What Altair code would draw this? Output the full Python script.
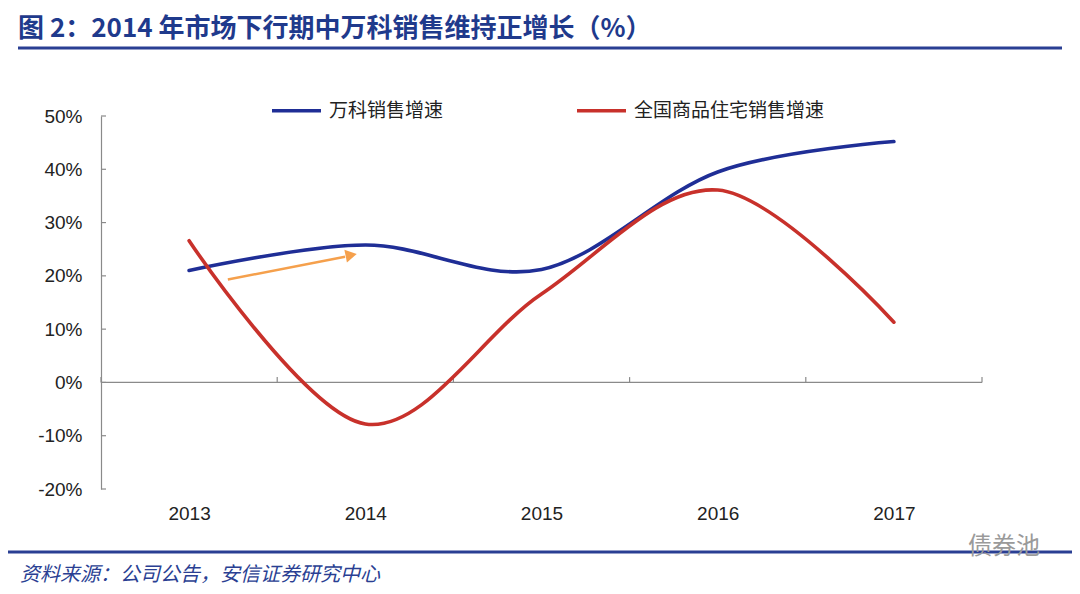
import altair as alt
import pandas as pd

# ---- data ----
years = [2013, 2014, 2015, 2016, 2017]
vanke = [21.0, 25.8, 21.2, 39.5, 45.2]
national = [26.6, -7.8, 16.6, 36.1, 11.3]
series_names = ["万科销售增速", "全国商品住宅销售增速"]
series_colors = ["#1F2E96", "#C8312B"]
y_ticks = [-20, -10, 0, 10, 20, 30, 40, 50]
x_bounds = [2012.5, 2013.5, 2014.5, 2015.5, 2016.5, 2017.5]
arrow_x = [2013.22, 2013.885]
arrow_y = [19.3, 23.6]
arrow_head_x = [2013.92]
arrow_head_y = [23.9]

title_text = "图 2：2014 年市场下行期中万科销售维持正增长（%）"
source_text = "资料来源：公司公告，安信证券研究中心"
watermark_text = "债券池"

W, H = 881, 373
FONT = "Liberation Sans, Noto Sans CJK SC, sans-serif"
CJK = "Noto Sans CJK SC, sans-serif"

rows = []
for name, vals in zip(series_names, [vanke, national]):
    for yr, v in zip(years, vals):
        rows.append({"year": yr, "value": v, "series": name})
df = pd.DataFrame(rows)

xscale = alt.Scale(domain=[2012.5, 2017.5], nice=False, zero=False)
yscale = alt.Scale(domain=[-20, 50], nice=False, zero=False)

x_axis = alt.Axis(values=years, format="d", title=None, domain=False,
                  ticks=False, grid=False, labelFontSize=19, labelFont=FONT,
                  labelColor="#222222", labelPadding=15, labelFlush=False)
y_axis = alt.Axis(values=y_ticks, title=None, grid=False, ticks=False,
                  domainColor="#8a8a8a", domainWidth=1.2,
                  labelExpr="datum.value + '%'", labelFontSize=19,
                  labelFont=FONT, labelColor="#222222", labelPadding=19)

zero_line = alt.Chart(pd.DataFrame({"z": [0]})).mark_rule(color="#8a8a8a", strokeWidth=1.2).encode(
    y=alt.Y("z:Q", scale=yscale, axis=y_axis), x=alt.value(0), x2=alt.value(W)
)

xt = alt.Chart(pd.DataFrame({"b": x_bounds, "z0": [0] * 6, "z1": [1] * 6})).mark_rule(
    color="#8a8a8a", strokeWidth=1.2
).encode(
    x=alt.X("b:Q", scale=xscale, axis=x_axis),
    y=alt.Y("z0:Q", scale=yscale, axis=y_axis), y2="z1:Q"
)

yt = alt.Chart(pd.DataFrame({"t": y_ticks})).mark_rule(color="#8a8a8a", strokeWidth=1.2).encode(
    y=alt.Y("t:Q", scale=yscale, axis=y_axis), x=alt.value(0), x2=alt.value(5)
)

lines = alt.Chart(df).mark_line(
    interpolate="cardinal", tension=0, strokeWidth=3.6, strokeCap="round"
).encode(
    x=alt.X("year:Q", scale=xscale, axis=x_axis),
    y=alt.Y("value:Q", scale=yscale, axis=y_axis),
    color=alt.Color("series:N",
                    scale=alt.Scale(domain=series_names, range=series_colors),
                    legend=alt.Legend(orient="none", legendX=169, legendY=-32,
                                      direction="horizontal", title=None,
                                      symbolType="stroke", symbolSize=2401,
                                      symbolStrokeWidth=3.6, labelFontSize=19,
                                      labelFont=CJK, labelColor="#222222",
                                      columnPadding=125, labelOffset=6,
                                      padding=0, labelLimit=400)),
)

arrow_line = alt.Chart(pd.DataFrame({"ax": arrow_x, "ay": arrow_y})).mark_line(
    color="#F5A04C", strokeWidth=2.5
).encode(x=alt.X("ax:Q", scale=xscale, axis=x_axis), y=alt.Y("ay:Q", scale=yscale, axis=y_axis))

arrow_head = alt.Chart(pd.DataFrame({"hx": arrow_head_x, "hy": arrow_head_y})).mark_point(
    shape="triangle-right", filled=True, size=170, angle=348.7, color="#F5A04C", opacity=1
).encode(x=alt.X("hx:Q", scale=xscale, axis=x_axis), y=alt.Y("hy:Q", scale=yscale, axis=y_axis))

txt = pd.DataFrame({"label": [title_text]})
title = alt.Chart(txt).mark_text(
    align="left", baseline="middle", font=CJK, fontSize=26,
    fontWeight="bold", color="#1F3A8C"
).encode(x=alt.value(-83), y=alt.value(-87), text="label:N")

src = pd.DataFrame({"label": [source_text]})
source = alt.Chart(src).mark_text(
    align="left", baseline="middle", font=CJK, fontSize=20,
    fontStyle="italic", color="#2A3F93"
).encode(x=alt.value(-81), y=alt.value(459), text="label:N")

wm = pd.DataFrame({"label": [watermark_text]})
watermark = alt.Chart(wm).mark_text(
    align="left", baseline="middle", font=CJK, fontSize=24, color="#9a9a9a"
).encode(x=alt.value(867), y=alt.value(431), text="label:N")

rl = pd.DataFrame({"r": [1]})
title_rule = alt.Chart(rl).mark_rule(color="#2A3F93", strokeWidth=3).encode(
    x=alt.value(-83), x2=alt.value(961), y=alt.value(-68)
)
bottom_rule = alt.Chart(rl).mark_rule(color="#2A3F93", strokeWidth=3).encode(
    x=alt.value(-93), x2=alt.value(971), y=alt.value(436)
)

chart = alt.layer(
    zero_line, xt, yt, lines, arrow_line, arrow_head,
    title, title_rule, bottom_rule, source, watermark
).properties(
    width=W, height=H,
    autosize=alt.AutoSizeParams(type="none"),
    padding={"left": 93, "top": 108, "right": 90, "bottom": 100},
    background="white",
).configure_view(strokeWidth=0)

chart.save("out.html", embed_options={"renderer": "svg", "actions": False})
